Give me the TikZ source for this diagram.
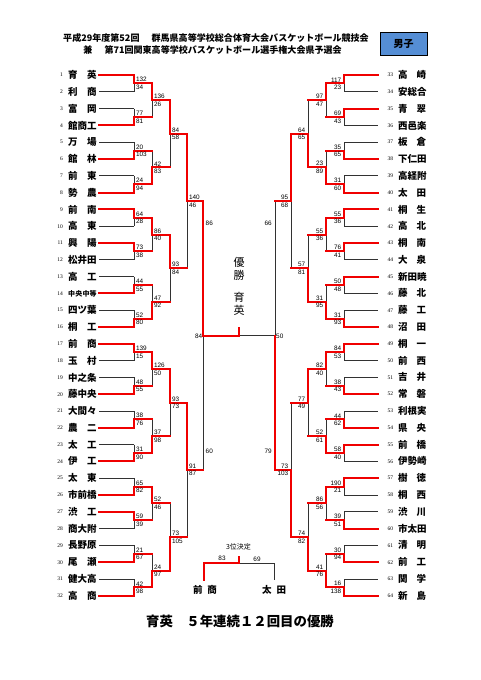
\documentclass[tikz,border=0pt]{standalone}
\usepackage{fontspec}
\setmainfont{Liberation Serif}
\newfontfamily\jp{Noto Sans CJK JP}
\newfontfamily\scf{Liberation Sans}
\pgfdeclarelayer{bg}
\pgfdeclarelayer{paper}
\pgfsetlayers{paper,bg,main}
\definecolor{wred}{RGB}{240,0,0}
\definecolor{lgray}{RGB}{50,50,50}
\definecolor{boxblue}{RGB}{85,142,213}
\tikzset{
  bline/.style={draw=lgray,line width=0.8pt},
  rline/.style={draw=wred,line width=2pt,line cap=rect},
  score/.style={font=\scf\fontsize{6.4}{6.4}\selectfont,inner sep=0pt},
  tnum/.style={font=\fontsize{5.5}{5.5}\selectfont,inner sep=0pt},
  tname/.style={font=\jp\bfseries\fontsize{9.5}{9.5}\selectfont,inner sep=0pt},
  ttl/.style={font=\jp\bfseries\fontsize{9.05}{9.05}\selectfont,inner sep=0pt},
  midtxt/.style={font=\jp\fontsize{11}{12.8}\selectfont,align=center,inner sep=0pt},
}
\def\LXs{{0,134,152,170,187,203,239}}
\def\RXs{{0,344,326,308,291,275,239}}
\newcommand\teamy[1]{\pgfmathsetmacro\ty{75+16.8*(#1-1)}}
\newcommand\Lteam[3]{%
  \teamy{#1}
  \node[tnum,anchor=east] (LN#1) at (63,\ty) {#1};
  \node[tname,anchor=west] (LT#1) at (68,\ty) {\makebox[28.5pt][l]{#2}};
  \coordinate (LE#1) at (134,\ty);
  \draw[#3] ([xshift=2.5pt]LT#1.east) -- (LE#1);
}
\newcommand\Rteam[3]{%
  \teamy{#1-32}
  \node[tnum,anchor=west] (RN#1) at (387.5,\ty) {#1};
  \node[tname,anchor=west] (RT#1) at (398,\ty) {\makebox[28pt][l]{#2}};
  \coordinate (RE#1) at (344,\ty);
  \coordinate (RS#1) at (378,\ty);
  \draw[#3] (RE#1) -- (RS#1);
}
\newcommand\bmatch[6]{%
  \expandafter\let\expandafter\curX\csname #1Xs\endcsname
  \pgfmathtruncatemacro\hh{2^(#2-1)}
  \pgfmathtruncatemacro\aa{(#3-1)*2^(#2)+1}
  \pgfmathsetmacro\yt{75+16.8*((2*\aa+\hh-1)/2-1)}
  \pgfmathsetmacro\yb{75+16.8*((2*\aa+3*\hh-1)/2-1)}
  \pgfmathsetmacro\ym{(\yt+\yb)/2}
  \pgfmathsetmacro\xv{\curX[#2]}
  \pgfmathsetmacro\xn{\curX[#2+1]}
  \coordinate (#1#2-#3t) at (\xv,\yt);
  \coordinate (#1#2-#3b) at (\xv,\yb);
  \coordinate (#1#2-#3m) at (\xv,\ym);
  \coordinate (#1#2-#3o) at (\xn,\ym);
  \begin{pgfonlayer}{bg}\draw[bline] (#1#2-#3t) -- (#1#2-#3b);\end{pgfonlayer}
  \draw[rline] (#1#2-#3#4) -- (#1#2-#3m) -- (#1#2-#3o);
  \if#1L
    \node[score,anchor=south west] (#1#2-#3s1) at ([xshift=1.8pt,yshift=1.2pt]#1#2-#3m) {#5};
    \node[score,anchor=north west] (#1#2-#3s2) at ([xshift=1.8pt,yshift=-1.4pt]#1#2-#3m) {#6};
  \else
    \node[score,anchor=south east] (#1#2-#3s1) at ([xshift=-2.5pt,yshift=1.2pt]#1#2-#3m) {#5};
    \node[score,anchor=north east] (#1#2-#3s2) at ([xshift=-2.5pt,yshift=-1.4pt]#1#2-#3m) {#6};
  \fi
}
\begin{document}
\begin{tikzpicture}[x=1pt,y=-1pt]
\begin{pgfonlayer}{paper}
\fill[white] (0,0) rectangle (481,680);
\end{pgfonlayer}
\useasboundingbox (0,0) rectangle (481,680);

% title
\node[ttl,anchor=east] (title1) at (369,38) {平成29年度第52回　\hspace{3pt}群馬県高等学校総合体育大会バスケットボール競技会};
\node[ttl,anchor=east] (title2) at (342,50) {兼　\hspace{3pt}第71回関東高等学校バスケットボール選手権大会県予選会};
\node[draw=black,line width=0.8pt,fill=boxblue,minimum width=47pt,minimum height=23pt,inner sep=0pt,
  font=\jp\bfseries\fontsize{10}{10}\selectfont] (boys) at (403.5,43.5) {男子};

% left teams
\Lteam{1}{育\hfill 英}{rline}
\Lteam{2}{利\hfill 商}{bline}
\Lteam{3}{富\hfill 岡}{bline}
\Lteam{4}{館\hfill 商\hfill 工}{rline}
\Lteam{5}{万\hfill 場}{bline}
\Lteam{6}{館\hfill 林}{rline}
\Lteam{7}{前\hfill 東}{bline}
\Lteam{8}{勢\hfill 農}{rline}
\Lteam{9}{前\hfill 南}{rline}
\Lteam{10}{高\hfill 東}{bline}
\Lteam{11}{興\hfill 陽}{rline}
\Lteam{12}{松\hfill 井\hfill 田}{bline}
\Lteam{13}{高\hfill 工}{bline}
\Lteam{14}{\fontsize{7}{7}\selectfont 中\hfill 央\hfill 中\hfill 等}{rline}
\Lteam{15}{四\hfill ツ\hfill 葉}{bline}
\Lteam{16}{桐\hfill 工}{rline}
\Lteam{17}{前\hfill 商}{rline}
\Lteam{18}{玉\hfill 村}{bline}
\Lteam{19}{中\hfill 之\hfill 条}{bline}
\Lteam{20}{藤\hfill 中\hfill 央}{rline}
\Lteam{21}{大\hfill 間\hfill 々}{bline}
\Lteam{22}{農\hfill 二}{rline}
\Lteam{23}{太\hfill 工}{bline}
\Lteam{24}{伊\hfill 工}{rline}
\Lteam{25}{太\hfill 東}{bline}
\Lteam{26}{市\hfill 前\hfill 橋}{rline}
\Lteam{27}{渋\hfill 工}{rline}
\Lteam{28}{商\hfill 大\hfill 附}{bline}
\Lteam{29}{長\hfill 野\hfill 原}{bline}
\Lteam{30}{尾\hfill 瀬}{rline}
\Lteam{31}{健\hfill 大\hfill 高}{bline}
\Lteam{32}{高\hfill 商}{rline}

% right teams
\Rteam{33}{高\hfill 崎}{rline}
\Rteam{34}{安\hfill 総\hfill 合}{bline}
\Rteam{35}{青\hfill 翠}{rline}
\Rteam{36}{西\hfill 邑\hfill 楽}{bline}
\Rteam{37}{板\hfill 倉}{bline}
\Rteam{38}{下\hfill 仁\hfill 田}{rline}
\Rteam{39}{高\hfill 経\hfill 附}{bline}
\Rteam{40}{太\hfill 田}{rline}
\Rteam{41}{桐\hfill 生}{rline}
\Rteam{42}{高\hfill 北}{bline}
\Rteam{43}{桐\hfill 南}{rline}
\Rteam{44}{大\hfill 泉}{bline}
\Rteam{45}{新\hfill 田\hfill 暁}{rline}
\Rteam{46}{藤\hfill 北}{bline}
\Rteam{47}{藤\hfill 工}{bline}
\Rteam{48}{沼\hfill 田}{rline}
\Rteam{49}{桐\hfill 一}{rline}
\Rteam{50}{前\hfill 西}{bline}
\Rteam{51}{吉\hfill 井}{bline}
\Rteam{52}{常\hfill 磐}{rline}
\Rteam{53}{利\hfill 根\hfill 実}{bline}
\Rteam{54}{県\hfill 央}{rline}
\Rteam{55}{前\hfill 橋}{rline}
\Rteam{56}{伊\hfill 勢\hfill 崎}{bline}
\Rteam{57}{樹\hfill 徳}{rline}
\Rteam{58}{桐\hfill 西}{bline}
\Rteam{59}{渋\hfill 川}{bline}
\Rteam{60}{市\hfill 太\hfill 田}{rline}
\Rteam{61}{清\hfill 明}{bline}
\Rteam{62}{前\hfill 工}{rline}
\Rteam{63}{関\hfill 学}{bline}
\Rteam{64}{新\hfill 島}{rline}

% left matches
\bmatch{L}{1}{1}{t}{132}{34}
\bmatch{L}{1}{2}{b}{77}{81}
\bmatch{L}{1}{3}{b}{20}{103}
\bmatch{L}{1}{4}{b}{24}{94}
\bmatch{L}{1}{5}{t}{64}{28}
\bmatch{L}{1}{6}{t}{73}{38}
\bmatch{L}{1}{7}{b}{44}{55}
\bmatch{L}{1}{8}{b}{52}{80}
\bmatch{L}{1}{9}{t}{139}{15}
\bmatch{L}{1}{10}{b}{48}{55}
\bmatch{L}{1}{11}{b}{38}{76}
\bmatch{L}{1}{12}{b}{31}{90}
\bmatch{L}{1}{13}{b}{65}{82}
\bmatch{L}{1}{14}{t}{59}{39}
\bmatch{L}{1}{15}{b}{21}{67}
\bmatch{L}{1}{16}{b}{42}{98}
\bmatch{L}{2}{1}{t}{136}{26}
\bmatch{L}{2}{2}{b}{42}{83}
\bmatch{L}{2}{3}{t}{86}{40}
\bmatch{L}{2}{4}{b}{47}{92}
\bmatch{L}{2}{5}{t}{126}{50}
\bmatch{L}{2}{6}{b}{37}{98}
\bmatch{L}{2}{7}{t}{52}{46}
\bmatch{L}{2}{8}{b}{24}{97}
\bmatch{L}{3}{1}{t}{84}{58}
\bmatch{L}{3}{2}{t}{93}{84}
\bmatch{L}{3}{3}{t}{93}{73}
\bmatch{L}{3}{4}{b}{73}{105}
\bmatch{L}{4}{1}{t}{140}{46}
\bmatch{L}{4}{2}{t}{91}{87}

% right matches
\bmatch{R}{1}{1}{t}{117}{23}
\bmatch{R}{1}{2}{t}{69}{43}
\bmatch{R}{1}{3}{b}{35}{65}
\bmatch{R}{1}{4}{b}{31}{60}
\bmatch{R}{1}{5}{t}{55}{36}
\bmatch{R}{1}{6}{t}{76}{41}
\bmatch{R}{1}{7}{t}{50}{48}
\bmatch{R}{1}{8}{b}{31}{93}
\bmatch{R}{1}{9}{t}{84}{53}
\bmatch{R}{1}{10}{b}{38}{43}
\bmatch{R}{1}{11}{b}{44}{62}
\bmatch{R}{1}{12}{t}{58}{40}
\bmatch{R}{1}{13}{t}{190}{21}
\bmatch{R}{1}{14}{b}{39}{51}
\bmatch{R}{1}{15}{b}{30}{94}
\bmatch{R}{1}{16}{b}{16}{138}
\bmatch{R}{2}{1}{t}{97}{47}
\bmatch{R}{2}{2}{b}{23}{89}
\bmatch{R}{2}{3}{t}{55}{36}
\bmatch{R}{2}{4}{b}{31}{95}
\bmatch{R}{2}{5}{t}{82}{40}
\bmatch{R}{2}{6}{b}{52}{61}
\bmatch{R}{2}{7}{t}{86}{56}
\bmatch{R}{2}{8}{b}{41}{76}
\bmatch{R}{3}{1}{b}{64}{65}
\bmatch{R}{3}{2}{b}{57}{81}
\bmatch{R}{3}{3}{t}{77}{49}
\bmatch{R}{3}{4}{b}{74}{82}
\bmatch{R}{4}{1}{t}{95}{68}
\bmatch{R}{4}{2}{b}{73}{103}

% semifinals and final
\coordinate (LSm) at (203,335.7);
\coordinate (RSm) at (275,335.7);
\coordinate (C) at (239,335.7);
\coordinate (Ctop) at (239,327.5);
\begin{pgfonlayer}{bg}
\draw[bline] (L4-2o) -- (LSm);
\draw[bline] (R4-1o) -- (RSm) -- (C);
\end{pgfonlayer}
\draw[rline] (L4-1o) -- (LSm) -- (C) -- (Ctop);
\draw[rline] (R4-2o) -- (RSm);
\node[score,anchor=west] (LS1) at (205.5,223) {86};
\node[score,anchor=west] (LS2) at (205.5,451) {60};
\node[score,anchor=east] (RS1) at (272,223) {66};
\node[score,anchor=east] (RS2) at (272,451) {79};
\node[score,anchor=east] (F1) at (202.5,336.5) {84};
\node[score,anchor=west] (F2) at (276,336.5) {50};
\node[midtxt] (yusho) at (239,268.5) {優\\勝};
\node[midtxt] (ikuei) at (239,304) {育\\英};

% third place
\node[font=\jp\fontsize{7}{7}\selectfont,inner sep=0pt] (third) at (238.5,547) {3位決定};
\coordinate (QL) at (204,563);
\coordinate (QR) at (274,563);
\coordinate (QC) at (239,563);
\coordinate (QT) at (239,556.5);
\node[tname] (QLn) at (205,590) {\makebox[24pt][l]{前\hfill 商}};
\node[tname] (QRn) at (274,590) {\makebox[24pt][l]{太\hfill 田}};
\coordinate (QLb) at (204,580);
\coordinate (QRb) at (274,580);
\begin{pgfonlayer}{bg}
\draw[bline] (QC) -- (QR) -- (QRb);
\end{pgfonlayer}
\draw[rline] (QLb) -- (QL) -- (QC) -- (QT);
\node[score,anchor=south] (Q1) at (222,561) {83};
\node[score,anchor=south] (Q2) at (257,561.8) {69};

% bottom
\node[font=\jp\bfseries\fontsize{13.4}{13.4}\selectfont,inner sep=0pt] (champ) at (240,621) {育英　５年連続１２回目の優勝};
\end{tikzpicture}
\end{document}
